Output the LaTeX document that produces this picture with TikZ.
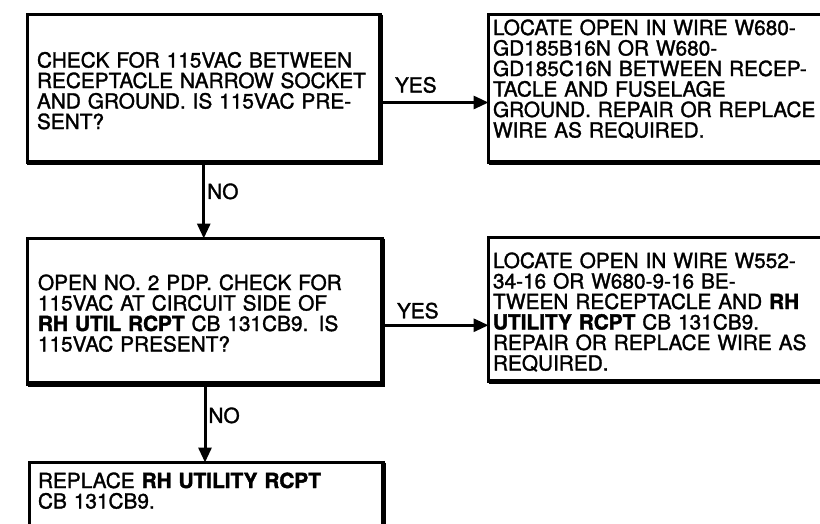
\documentclass[tikz,border=0pt]{standalone}
\usepackage{fontspec}
\setmainfont{TeX Gyre Heros}[UprightFeatures={FakeBold=1.5}, BoldFeatures={FakeBold=1.8}]
\usetikzlibrary{arrows.meta}

\tikzset{
  stepbox/.style={draw, line width=3pt, outer sep=0pt, inner ysep=0pt,
    anchor=north west, align=left, font=\fontsize{20.8}{20.5}\selectfont},
  heavyedge/.style={line width=5.5pt},
  flow/.style={->, line width=3pt},
  answer/.style={font=\fontsize{20.8}{20.5}\selectfont, inner sep=2pt},
}

\begin{document}
\begin{tikzpicture}[x=1pt, y=-1pt, >={Triangle[length=15pt, width=13pt]}]
    \useasboundingbox (0,0) rectangle (820,523);
    \clip (0,0) rectangle (820,523);
    % Question boxes
    \node[stepbox, inner xsep=10pt, text width=333.5pt, text height=53pt, text depth=95pt]
        (chk) at (27,14.5) {CHECK FOR 115VAC BETWEEN\\RECEPTACLE NARROW SOCKET\\AND GROUND. IS 115VAC PRE-\\SENT?};
    \node[stepbox, inner xsep=10.5pt, text width=334pt, text height=51.5pt, text depth=94pt]
        (opn) at (27.5,238.5) {OPEN NO. 2 PDP. CHECK FOR\\115VAC AT CIRCUIT SIDE OF\\\textbf{RH UTIL RCPT} CB 131CB9. IS\\115VAC PRESENT?};
    \node[stepbox, inner xsep=9pt, text width=336.5pt, text height=25.5pt, text depth=111.5pt]
        (rpl) at (29,462.5) {REPLACE \textbf{RH UTILITY RCPT}\\CB 131CB9.};
    % Action boxes
    \node[stepbox, inner xsep=4.5pt, text width=405pt, text height=20.5pt, text depth=127.5pt]
        (loc1) at (488.5,14.5) {LOCATE OPEN IN WIRE W680-\\GD185B16N OR W680-\\GD185C16N BETWEEN RECEP-\\TACLE AND FUSELAGE\\GROUND. REPAIR OR REPLACE\\WIRE AS REQUIRED.};
    \node[stepbox, inner xsep=4.5pt, text width=405pt, text height=30.5pt, text depth=113.5pt]
        (loc2) at (488.5,237.5) {LOCATE OPEN IN WIRE W552-\\34-16 OR W680-9-16 BE-\\TWEEN RECEPTACLE AND \textbf{RH}\\\textbf{UTILITY RCPT} CB 131CB9.\\REPAIR OR REPLACE WIRE AS\\REQUIRED.};
    % Heavy bottom and right edges
    \foreach \n in {chk, opn, rpl, loc1, loc2}
        \draw[heavyedge] (\n.north east) -- (\n.south east) -- (\n.south west);
    % YES branches
    \coordinate (y1) at ([yshift=-14pt]chk.east);
    \coordinate (y2) at ([yshift=-14pt]opn.east);
    \draw[flow] (y1) -- (y1 -| loc1.west)
        node[answer, pos=0, anchor=base west, xshift=11pt, yshift=10pt] (yes1) {YES};
    \draw[flow] (y2) -- (y2 -| loc2.west)
        node[answer, pos=0, anchor=base west, xshift=11pt, yshift=7pt] (yes2) {YES};
    % NO branches
    \draw[flow] (chk.south) -- (chk.south |- opn.north)
        node[answer, right, pos=0.38] (no1) {NO};
    \draw[flow] (opn.south) -- (opn.south |- rpl.north)
        node[answer, right, pos=0.4] (no2) {NO};
\end{tikzpicture}
\end{document}
